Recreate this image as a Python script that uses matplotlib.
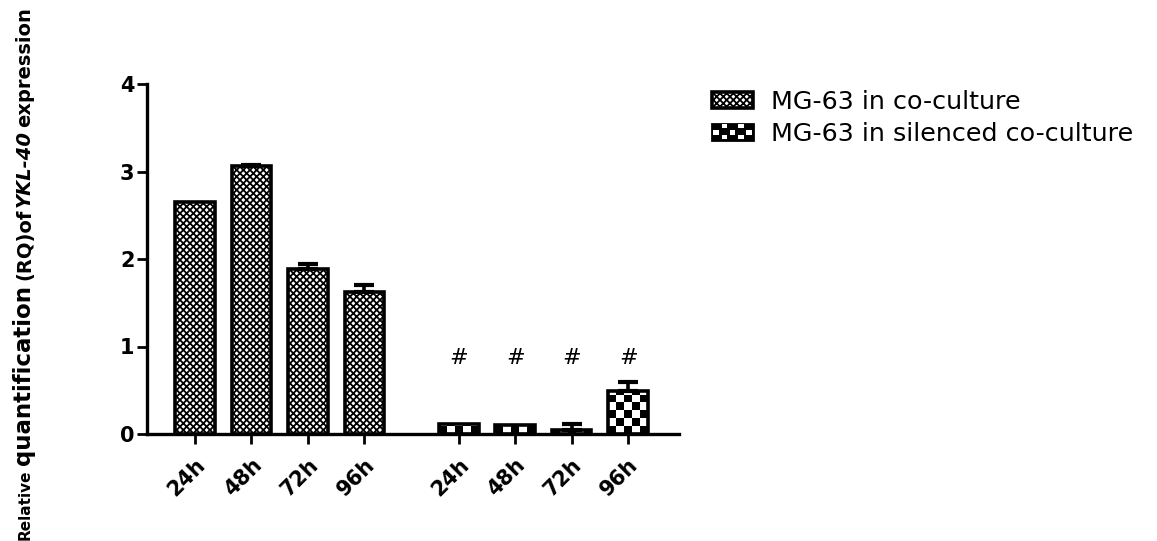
import numpy as np
import matplotlib
matplotlib.use('Agg')
import matplotlib.pyplot as plt
from matplotlib.patches import Rectangle
from matplotlib.legend_handler import HandlerBase

plt.rcParams['hatch.linewidth'] = 1.3

# RQ of YKL-40, MG-63 cells in co-culture vs silenced co-culture
times = ['24h', '48h', '72h', '96h']
coculture = [2.65, 3.06, 1.89, 1.62]
coculture_err = [0.0, 0.02, 0.05, 0.08]
silenced = [0.12, 0.10, 0.05, 0.49]
silenced_err = [0.0, 0.0, 0.06, 0.10]
sig_mark = '#'
sig_y = 0.87

labels = ['MG-63 in co-culture', 'MG-63 in silenced co-culture']

x1 = np.arange(4)
x2 = np.arange(4) + 4.67
width = 0.7
cell_h = 0.09

fig = plt.figure(figsize=(11.57, 5.41), dpi=100)
ax = fig.add_axes([147 / 1157, 107 / 541, 532 / 1157, 350 / 541])

ax.bar(x1, coculture, width, facecolor='white', edgecolor='black',
       hatch='xxxxx', linewidth=0, zorder=2)
ax.bar(x1, coculture, width, fill=False, edgecolor='black', linewidth=2.6, zorder=3)

bars2 = ax.bar(x2, silenced, width, facecolor='white', edgecolor='none', zorder=2)
for rect, v in zip(bars2, silenced):
    ny = max(1, int(np.ceil(v / cell_h)))
    board = np.add.outer(np.arange(ny), np.arange(5)) % 2
    x0 = rect.get_x()
    im = ax.imshow(board, cmap='gray', origin='lower', interpolation='nearest',
                   extent=(x0, x0 + width, 0, ny * cell_h), aspect='auto', zorder=2.5)
    im.set_clip_path(rect)
ax.bar(x2, silenced, width, fill=False, edgecolor='black', linewidth=2.6, zorder=3)

# upper error bars only where there is a visible SEM
xs = np.concatenate([x1, x2])
vals = np.array(coculture + silenced)
errs = np.array(coculture_err + silenced_err)
has_err = errs > 0
ax.errorbar(xs[has_err], vals[has_err], yerr=[np.zeros(has_err.sum()), errs[has_err]],
            fmt='none', ecolor='black', elinewidth=2.6, capsize=7, capthick=3, zorder=4)

for xi in x2:
    ax.text(xi, sig_y, sig_mark, ha='center', va='center', fontsize=16, family='DejaVu Sans')

ax.set_xlim(-0.85, 8.57)
ax.set_ylim(0, 4)
ax.set_yticks([0, 1, 2, 3, 4])
ax.set_xticks(xs)
ax.set_xticklabels(times + times, rotation=45, ha='right', rotation_mode='anchor')

for side in ['top', 'right']:
    ax.spines[side].set_visible(False)
ax.spines['left'].set_linewidth(2.4)
ax.spines['bottom'].set_linewidth(2.4)
ax.tick_params(axis='both', length=7, width=2, direction='out', color='black')
ax.tick_params(axis='y', pad=2)
ax.tick_params(axis='x', pad=8)
for lab in ax.get_yticklabels() + ax.get_xticklabels():
    lab.set_fontfamily('DejaVu Sans')
    lab.set_fontweight('bold')
    lab.set_fontsize(15)

# y label built from pieces with different styles
lab_x = 30 / 1157
pieces = [
    ('Relative', 540, dict(family='DejaVu Sans', weight='bold', fontsize=11)),
    ('quantification', 465, dict(family='DejaVu Sans', weight='bold', fontsize=16.5)),
    ('(RQ)of', 280, dict(family='DejaVu Sans', weight='bold', fontsize=14)),
    ('YKL-40', 207, dict(family='DejaVu Sans', weight='bold', style='italic', fontsize=14)),
    ('expression', 127, dict(family='DejaVu Sans', weight='bold', fontsize=14)),
]
for txt, ypix, kw in pieces:
    fig.text(lab_x, 1 - ypix / 541, txt, rotation=90, rotation_mode='anchor',
             ha='left', va='baseline', **kw)


class CheckerHandler(HandlerBase):
    def create_artists(self, legend, orig_handle, xdescent, ydescent, width, height,
                       fontsize, trans):
        arts = [Rectangle((-xdescent, -ydescent), width, height, facecolor='black',
                          edgecolor='black', linewidth=2, transform=trans)]
        cw = width / 5
        ch = height / 3
        for i in range(5):
            if i % 2 == 0:
                arts.append(Rectangle((-xdescent + i * cw + 1, -ydescent + ch), cw - 2, ch,
                                      facecolor='white', edgecolor='none', transform=trans))
            else:
                for j in (0, 2):
                    arts.append(Rectangle((-xdescent + i * cw + 1, -ydescent + j * ch + 1),
                                          cw - 2, ch - 1, facecolor='white',
                                          edgecolor='none', transform=trans))
        return arts


h1 = Rectangle((0, 0), 1, 1, facecolor='white', edgecolor='black', hatch='xxxxx',
               linewidth=2.6)
h2 = Rectangle((0, 0), 1, 1)
fig.legend([h1, h2], labels, loc='upper left', bbox_to_anchor=(712 / 1157, 1 - 90 / 541),
           frameon=False, borderpad=0, borderaxespad=0, handlelength=1.62,
           handleheight=0.6, handletextpad=0.72, labelspacing=0.33,
           handler_map={h2: CheckerHandler()},
           prop={'family': 'DejaVu Sans', 'size': 18.3})

fig.savefig('out.png', dpi=100)
